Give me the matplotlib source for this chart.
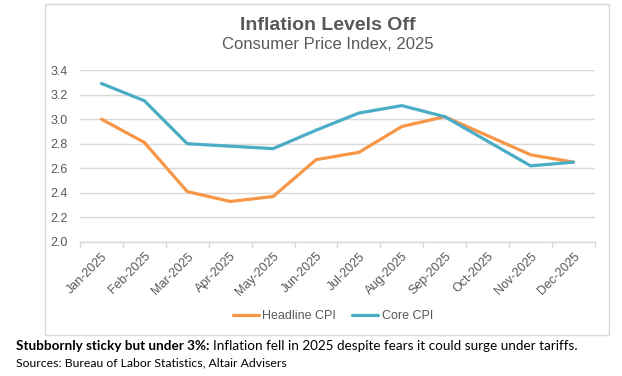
import numpy as np
import matplotlib.pyplot as plt
from matplotlib.patches import Rectangle

plt.rcParams['font.family'] = ['Liberation Sans', 'DejaVu Sans']

months = ['Jan-2025', 'Feb-2025', 'Mar-2025', 'Apr-2025', 'May-2025', 'Jun-2025',
          'Jul-2025', 'Aug-2025', 'Sep-2025', 'Oct-2025', 'Nov-2025', 'Dec-2025']
# October 2025 not published (shutdown) -> NaN, line is bridged
headline_cpi = [3.00, 2.81, 2.41, 2.33, 2.37, 2.67, 2.73, 2.94, 3.02, np.nan, 2.71, 2.65]
core_cpi = [3.29, 3.15, 2.80, 2.78, 2.76, 2.91, 3.05, 3.11, 3.02, np.nan, 2.62, 2.65]
yticks = [2.0, 2.2, 2.4, 2.6, 2.8, 3.0, 3.2, 3.4]

GRAY = '#595959'
GRID = '#D9D9D9'
ORANGE = '#F79646'
BLUE = '#4BACC6'

fig = plt.figure(figsize=(6.22, 3.76), dpi=100)
ax = fig.add_axes([0.1286, 0.3564, 0.828, 0.4574])

x = np.arange(len(months))
for vals, color, label in [(headline_cpi, ORANGE, 'Headline CPI'),
                           (core_cpi, BLUE, 'Core CPI')]:
    v = np.array(vals, dtype=float)
    ok = ~np.isnan(v)
    ax.plot(x[ok], v[ok], color=color, lw=2.3, label=label,
            solid_joinstyle='round', solid_capstyle='round')

ax.set_xlim(-0.5, len(months) - 0.5)
ax.set_ylim(2.0, 3.4)
ax.set_yticks(yticks)
ax.set_yticklabels([f'{t:.1f}' for t in yticks])
ax.yaxis.grid(True, color=GRID, lw=1)
ax.set_axisbelow(True)
for s in ['top', 'right', 'left']:
    ax.spines[s].set_visible(False)
ax.spines['bottom'].set_color(GRID)
ax.spines['bottom'].set_linewidth(1)

ax.set_xticks(x)
ax.set_xticklabels(months, rotation=45, ha='right', va='top',
                   rotation_mode='anchor')
ax.set_xticks(np.arange(-0.5, len(months)), minor=True)
ax.tick_params(axis='x', which='major', length=0, pad=6, labelsize=9,
               labelcolor=GRAY)
ax.tick_params(axis='x', which='minor', length=4, color=GRID, width=1)
ax.tick_params(axis='y', length=0, pad=9, labelsize=9, labelcolor=GRAY)

fig.text(0.527, 0.933, 'Inflation Levels Off', ha='center', va='center',
         fontsize=14, fontweight='bold', color=GRAY)
fig.text(0.527, 0.882, 'Consumer Price Index, 2025', ha='center', va='center',
         fontsize=12, color=GRAY)

fig.legend(loc='center', bbox_to_anchor=(0.535, 0.1596), ncol=2, frameon=False,
           fontsize=9, labelcolor=GRAY, handlelength=2.1, handletextpad=0.25,
           columnspacing=1.3)

# outer chart border
fig.patches.append(Rectangle((45 / 622, 1 - 335 / 376), 564 / 622, 331 / 376,
                             transform=fig.transFigure, fill=False,
                             edgecolor=GRID, lw=1))

foot_font = ['Lato', 'DejaVu Sans']
t1 = fig.text(16 / 622, 1 - 346 / 376, 'Stubbornly sticky but under 3%:',
              ha='left', va='center', fontsize=9.75, fontweight='bold',
              family=foot_font, color='black')
fig.canvas.draw()
bb = t1.get_window_extent()
fig.text(bb.x1 / 622 + 0.006, 1 - 346 / 376,
         'Inflation fell in 2025 despite fears it could surge under tariffs.',
         ha='left', va='center', fontsize=9.75, family=foot_font, color='black')
fig.text(16 / 622, 1 - 363 / 376, 'Sources: Bureau of Labor Statistics, Altair Advisers',
         ha='left', va='center', fontsize=8.8, family=foot_font, color='black')

fig.savefig('out.png', dpi=100)
